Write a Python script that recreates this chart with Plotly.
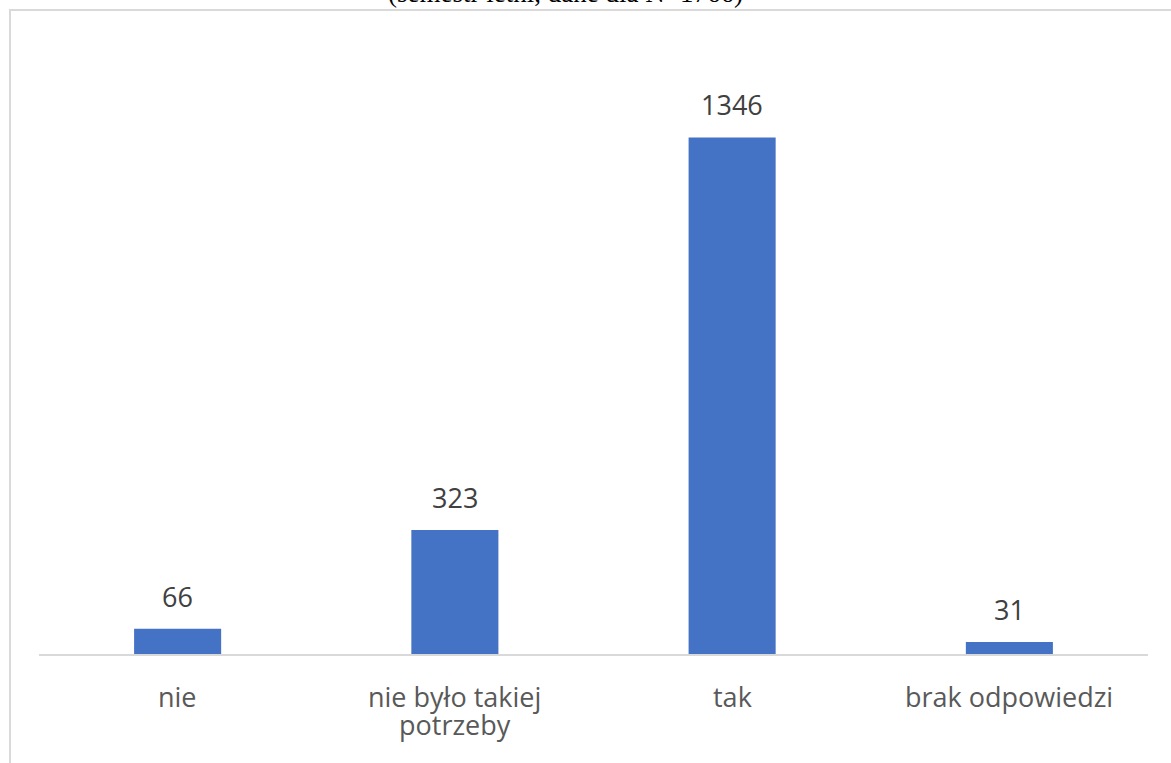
import plotly.graph_objects as go

categories = ["nie", "nie było takiej\npotrzeby", "tak", "brak odpowiedzi"]
values = [66, 323, 1346, 31]
title_text = "(semestr letni, dane dla N=" + str(sum(values)) + ")"

W, H = 1171, 763
ml, mr, mt, mb = 39, 23, 20, 109
pw, ph = W - ml - mr, H - mt - mb
px_per_unit = 0.3838
ymax = ph / px_per_unit

fig = go.Figure(go.Bar(
    x=categories, y=values, width=0.314,
    marker=dict(color="#4472c4", line=dict(width=0)),
    hoverinfo="skip",
))

ann = []
for c, v in zip(categories, values):
    ann.append(dict(x=c, y=v, xref="x", yref="y", text=str(v), showarrow=False,
                    yanchor="bottom", yshift=12,
                    font=dict(family="Open Sans", size=27, color="#404040")))
    for i, line in enumerate(c.split("\n")):
        ann.append(dict(x=c, y=0, xref="x", yref="y", text=line, showarrow=False,
                        yanchor="top", yshift=-22 - 28 * i,
                        font=dict(family="Open Sans", size=27, color="#595959")))

ann.append(dict(x=(565.5 - ml) / pw, y=1, xref="paper", yref="paper", text=title_text,
                showarrow=False, yanchor="bottom", xanchor="center", yshift=10,
                font=dict(family="Liberation Serif", size=27, color="#000000")))

fig.update_layout(
    width=W, height=H,
    margin=dict(l=ml, r=mr, t=mt, b=mb, pad=0),
    paper_bgcolor="white", plot_bgcolor="white",
    showlegend=False,
    xaxis=dict(showticklabels=False, showgrid=False, zeroline=False,
               showline=True, linecolor="#d9d9d9", linewidth=1.5, ticks=""),
    yaxis=dict(range=[0, ymax], visible=False, showgrid=False, zeroline=False),
    annotations=ann,
    shapes=[dict(type="rect", xref="paper", yref="paper",
                 x0=(10 - ml) / pw, x1=1.2,
                 y0=-1, y1=1 - (10 - mt) / ph,
                 line=dict(color="#d9d9d9", width=2), fillcolor="rgba(0,0,0,0)",
                 layer="below")],
)

fig.write_html("out.html", config={"displayModeBar": False},
               post_script="document.body.style.margin='0';")
